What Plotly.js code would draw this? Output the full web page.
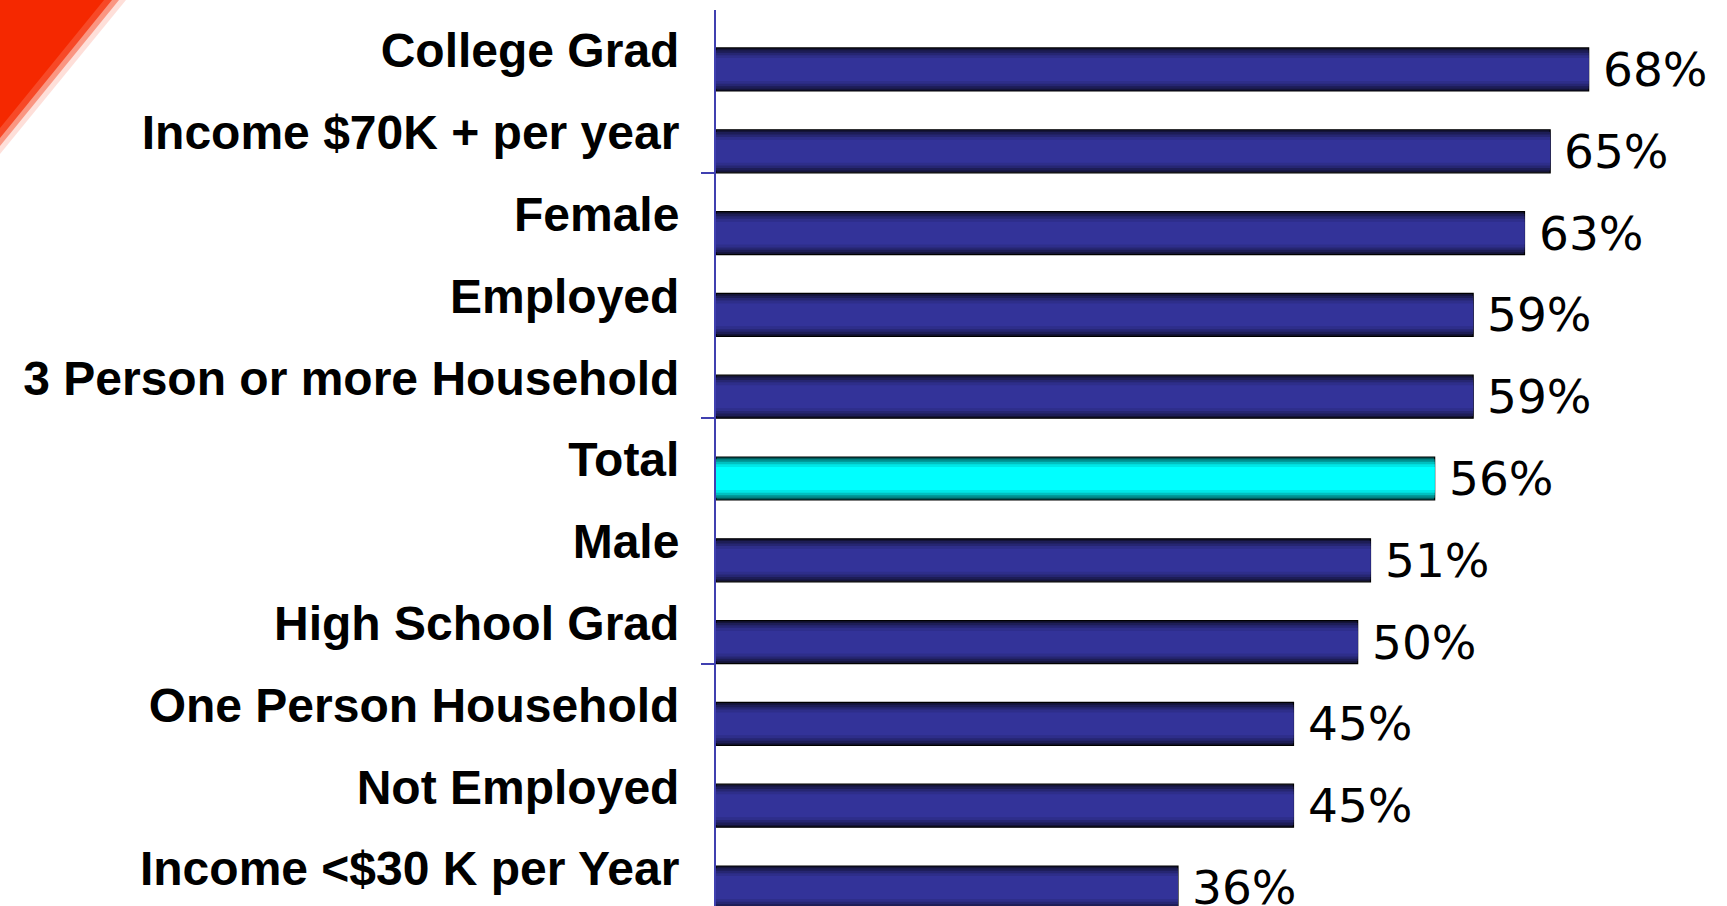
<!DOCTYPE html>
<html>
<head>
<meta charset="utf-8">
<script src="https://cdn.plot.ly/plotly-3.0.1.min.js"></script>
<style>
  body { margin: 0; background: #fff; }
  #chart { width: 1727px; height: 906px; }
</style>
</head>
<body>
<div id="chart"></div>
<script>
// groups, top to bottom
var categories = ['College Grad', 'Income $70K + per year', 'Female', 'Employed',
                  '3 Person or more Household', 'Total', 'Male', 'High School Grad',
                  'One Person Household', 'Not Employed', 'Income <$30 K per Year'];
var values = [68, 65, 63, 59, 59, 56, 51, 50, 45, 45, 36];
var highlight = 'Total';

// fake the vertical gradient with stacked bars, outer (dark) to inner (light)
var navyShades = ['#141438', '#1d1d56', '#262672', '#2e2e8a', '#333399'];
var cyanShades = ['#005c5c', '#009090', '#00c0c0', '#00e6e6', '#00ffff'];
var layerWidths = [0.526, 0.47, 0.41, 0.35, 0.28];

var data = [];
for (var i = 0; i < layerWidths.length; i++) {
    var colors = categories.map(function (c) {
        return c === highlight ? cyanShades[i] : navyShades[i];
    });
    data.push({
        type: 'bar',
        orientation: 'h',
        x: values,
        y: categories,
        width: layerWidths[i],
        marker: {
            color: colors,
            line: {color: '#000000', width: i === 0 ? 1.2 : 0}
        },
        hoverinfo: 'skip',
        showlegend: false
    });
}

// labels next to bar ends
var annotations = categories.map(function (c, k) {
    return {
        x: values[k], y: c, xref: 'x', yref: 'y',
        text: values[k] + '%',
        xanchor: 'left', yanchor: 'middle', xshift: 12,
        showarrow: false,
        font: {family: 'DejaVu Sans', size: 47, color: '#000000'}
    };
});

// pixel -> paper helpers for the red corner decoration
var plotL = 716, plotT = 10, plotW = 1001, plotH = 896;
function px(v) { return (v - plotL) / plotW; }
function py(v) { return 1 - (v - plotT) / plotH; }
function corner(a, b) {
    return 'M ' + px(0) + ',' + py(0) + ' L ' + px(a) + ',' + py(0) +
           ' L ' + px(0) + ',' + py(b) + ' Z';
}

var shapes = [
    {type: 'path', xref: 'paper', yref: 'paper', path: corner(126, 154),
     fillcolor: 'rgba(245,40,0,0.15)', line: {width: 0}, layer: 'below'},
    {type: 'path', xref: 'paper', yref: 'paper', path: corner(119, 146),
     fillcolor: 'rgba(245,40,0,0.4)', line: {width: 0}, layer: 'below'},
    {type: 'path', xref: 'paper', yref: 'paper', path: corner(112, 138),
     fillcolor: 'rgba(245,40,0,0.7)', line: {width: 0}, layer: 'below'},
    {type: 'path', xref: 'paper', yref: 'paper', path: corner(104, 128),
     fillcolor: '#f52800', line: {width: 0}, layer: 'below'}
];

var yRange = [10.226, -0.727];

var layout = {
    width: 1727,
    height: 906,
    margin: {l: plotL, r: 10, t: plotT, b: 0},
    paper_bgcolor: '#ffffff',
    plot_bgcolor: '#ffffff',
    barmode: 'overlay',
    showlegend: false,
    xaxis: {range: [0, 78], visible: false, fixedrange: true},
    yaxis: {
        type: 'category',
        categoryarray: categories,
        range: yRange,
        showline: true, linecolor: '#4040b0', linewidth: 2,
        showgrid: false, zeroline: false,
        ticks: '', ticklabelstandoff: 25, ticklabelshift: 19,
        automargin: false,
        tickfont: {family: 'Liberation Sans', size: 48, color: '#000000', weight: 'bold'}
    },
    yaxis2: {
        overlaying: 'y',
        range: yRange,
        tickvals: [1.263, 4.263, 7.263],
        ticks: 'outside', ticklen: 14, tickwidth: 2, tickcolor: '#4040b0',
        showticklabels: false, showgrid: false, showline: false, zeroline: false,
        automargin: false
    },
    annotations: annotations,
    shapes: shapes
};

// empty trace so yaxis2 gets drawn
data.push({type: 'scatter', x: [], y: [], yaxis: 'y2', hoverinfo: 'skip', showlegend: false});

Plotly.newPlot('chart', data, layout, {displayModeBar: false, staticPlot: true});
</script>
</body>
</html>
